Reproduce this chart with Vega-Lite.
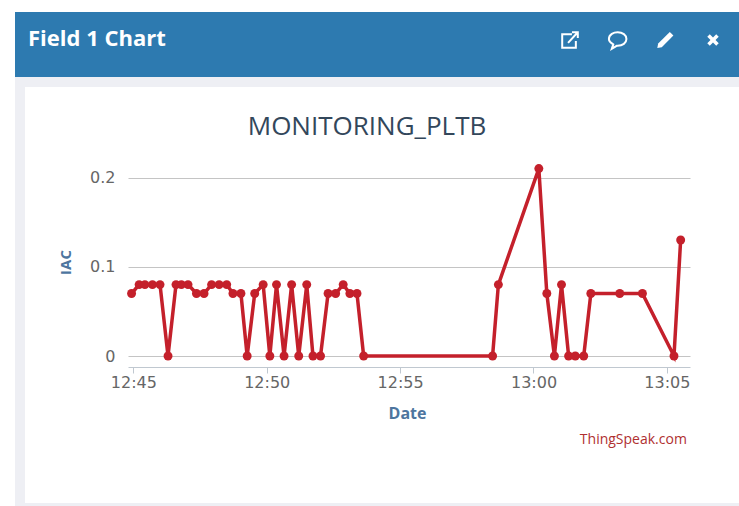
{
"$schema":"https://vega.github.io/schema/vega-lite/v6.json",
"padding":{"left":15,"top":12,"right":0,"bottom":0},
"background":"white",
"spacing":0,
"config":{"font":"Open Sans"},
"datasets":{"iac":[
{"t":"2021-01-01T12:44:56Z","v":0.07},{"t":"2021-01-01T12:45:13Z","v":0.08},{"t":"2021-01-01T12:45:26Z","v":0.08},{"t":"2021-01-01T12:45:43Z","v":0.08},{"t":"2021-01-01T12:46:00Z","v":0.08},{"t":"2021-01-01T12:46:18Z","v":0},{"t":"2021-01-01T12:46:36Z","v":0.08},{"t":"2021-01-01T12:46:48Z","v":0.08},{"t":"2021-01-01T12:47:03Z","v":0.08},{"t":"2021-01-01T12:47:22Z","v":0.07},{"t":"2021-01-01T12:47:39Z","v":0.07},{"t":"2021-01-01T12:47:56Z","v":0.08},{"t":"2021-01-01T12:48:13Z","v":0.08},{"t":"2021-01-01T12:48:30Z","v":0.08},{"t":"2021-01-01T12:48:44Z","v":0.07},{"t":"2021-01-01T12:49:02Z","v":0.07},{"t":"2021-01-01T12:49:16Z","v":0},{"t":"2021-01-01T12:49:33Z","v":0.07},{"t":"2021-01-01T12:49:52Z","v":0.08},{"t":"2021-01-01T12:50:07Z","v":0},{"t":"2021-01-01T12:50:22Z","v":0.08},{"t":"2021-01-01T12:50:39Z","v":0},{"t":"2021-01-01T12:50:56Z","v":0.08},{"t":"2021-01-01T12:51:12Z","v":0},{"t":"2021-01-01T12:51:30Z","v":0.08},{"t":"2021-01-01T12:51:44Z","v":0},{"t":"2021-01-01T12:52:01Z","v":0},{"t":"2021-01-01T12:52:18Z","v":0.07},{"t":"2021-01-01T12:52:35Z","v":0.07},{"t":"2021-01-01T12:52:52Z","v":0.08},{"t":"2021-01-01T12:53:07Z","v":0.07},{"t":"2021-01-01T12:53:23Z","v":0.07},{"t":"2021-01-01T12:53:38Z","v":0},{"t":"2021-01-01T12:58:28Z","v":0},{"t":"2021-01-01T12:58:41Z","v":0.08},{"t":"2021-01-01T13:00:12Z","v":0.21},{"t":"2021-01-01T13:00:30Z","v":0.07},{"t":"2021-01-01T13:00:47Z","v":0},{"t":"2021-01-01T13:01:03Z","v":0.08},{"t":"2021-01-01T13:01:19Z","v":0},{"t":"2021-01-01T13:01:34Z","v":0},{"t":"2021-01-01T13:01:53Z","v":0},{"t":"2021-01-01T13:02:09Z","v":0.07},{"t":"2021-01-01T13:03:14Z","v":0.07},{"t":"2021-01-01T13:04:05Z","v":0.07},{"t":"2021-01-01T13:05:16Z","v":0},{"t":"2021-01-01T13:05:31Z","v":0.13}],
"icons":[{"icon":"open"},{"icon":"comment"},{"icon":"edit"},{"icon":"close"}],
"credit":[{"label":"ThingSpeak.com"}]},
"vconcat":[
{
"width":725,"height":55,
"view":{"fill":"#2d7ab0","stroke":"#2d7ab0","strokeWidth":10},
"title":{"text":"Field 1 Chart","anchor":"start","frame":"group","dx":8,"offset":-34,"color":"white","fontSize":22,"fontWeight":"bold","font":"Open Sans"},
"data":{"name":"icons"},
"encoding":{
"x":{"field":"icon","type":"nominal","axis":null,"scale":{"type":"point","padding":0,"domain":["open","comment","edit","close"],"range":[550,693]}},
"shape":{"field":"icon","type":"nominal","legend":null,"scale":{"domain":["open","comment","edit","close"],"range":["M0.2,-0.6 H-0.8 V0.8 H0.6 V0.1 M-0.2,0.3 L0.8,-0.8 M0.2,-0.8 H0.8 V-0.2","M-0.9,-0.1 C-0.9,-0.6 -0.4,-0.8 0,-0.8 C0.5,-0.8 0.9,-0.5 0.9,-0.1 C0.9,0.3 0.5,0.6 0,0.6 L-0.1,0.6 L-0.6,0.9 L-0.45,0.45 C-0.7,0.3 -0.9,0.1 -0.9,-0.1 Z","M0.5,-0.9 L0.9,-0.5 L-0.4,0.8 L-0.9,0.9 L-0.8,0.4 Z","M-0.36,-0.64 L0,-0.28 L0.36,-0.64 L0.64,-0.36 L0.28,0 L0.64,0.36 L0.36,0.64 L0,0.28 L-0.36,0.64 L-0.64,0.36 L-0.28,0 L-0.64,-0.36 Z"]}},
"y":{"datum":0,"type":"quantitative","axis":null,"scale":{"domain":[0,1],"range":[23,0]}}
},
"layer":[
{"transform":[{"filter":"datum.icon==='open'||datum.icon==='comment'"}],"mark":{"type":"point","filled":false,"stroke":"white","strokeWidth":2,"size":380,"opacity":1}},
{"transform":[{"filter":"datum.icon==='edit'||datum.icon==='close'"}],"mark":{"type":"point","filled":true,"fill":"white","size":320,"opacity":1}}
]
},
{
"width":725,"height":426,
"view":{"fill":"white","strokeWidth":10,"stroke":"#eeeff4"},
"title":{"text":"MONITORING_PLTB","anchor":"middle","frame":"group","dx":-15.5,"offset":-58,"color":"#33475b","fontSize":26,"fontWeight":"normal","font":"Open Sans"},
"data":{"name":"iac"},
"layer":[
{
"mark":{"type":"line","color":"#c4202b","strokeWidth":3.5,"clip":false},
"encoding":{
"x":{"field":"t","type":"temporal","title":"Date","scale":{"type":"utc","domain":[{"year":2021,"month":1,"date":1,"hours":12,"minutes":44,"seconds":48,"utc":true},{"year":2021,"month":1,"date":1,"hours":13,"minutes":5,"seconds":52,"utc":true}],"range":[108,670]},
"axis":{"offset":-141,"labelExpr":"utcFormat(datum.value,'%H:%M')","values":[{"year":2021,"month":1,"date":1,"hours":12,"minutes":45,"utc":true},{"year":2021,"month":1,"date":1,"hours":12,"minutes":50,"utc":true},{"year":2021,"month":1,"date":1,"hours":12,"minutes":55,"utc":true},{"year":2021,"month":1,"date":1,"hours":13,"minutes":0,"utc":true},{"year":2021,"month":1,"date":1,"hours":13,"minutes":5,"utc":true}],"grid":false,"domainColor":"#c0c8d0","tickColor":"#c0c8d0","tickSize":6,"labelColor":"#666666","labelFont":"DejaVu Sans","labelFontSize":16,"labelPadding":1,"labelFlush":false,"titleColor":"#4d759e","titleFontSize":16,"titleFontWeight":"bold","titleX":387,"titleY":38}},
"y":{"field":"v","type":"quantitative","title":"IAC","scale":{"domain":[0,0.2],"range":[274,95.5],"nice":false},
"axis":{"offset":-108,"values":[0,0.1,0.2],"format":"~g","grid":true,"gridColor":"#c4c4c4","gridWidth":1.2,"domain":false,"ticks":false,"labelPadding":13,"labelColor":"#666666","labelFont":"DejaVu Sans","labelFontSize":16,"titleColor":"#4d759e","titleFontSize":15,"titleFontWeight":"bold","titleX":-55,"titleY":180}}
}
},
{
"mark":{"type":"point","filled":true,"color":"#c4202b","size":80,"opacity":1,"clip":false},
"encoding":{"x":{"field":"t","type":"temporal"},"y":{"field":"v","type":"quantitative"}}
},
{
"data":{"name":"credit"},
"mark":{"type":"text","align":"right","baseline":"middle","color":"#b03030","fontSize":14,"font":"Open Sans"},
"encoding":{"text":{"field":"label"},"x":{"datum":{"year":2021,"month":1,"date":1,"hours":13,"minutes":5,"seconds":45,"utc":true},"type":"temporal"},"y":{"datum":-0.094,"type":"quantitative"}}
}
]
}
]
}
